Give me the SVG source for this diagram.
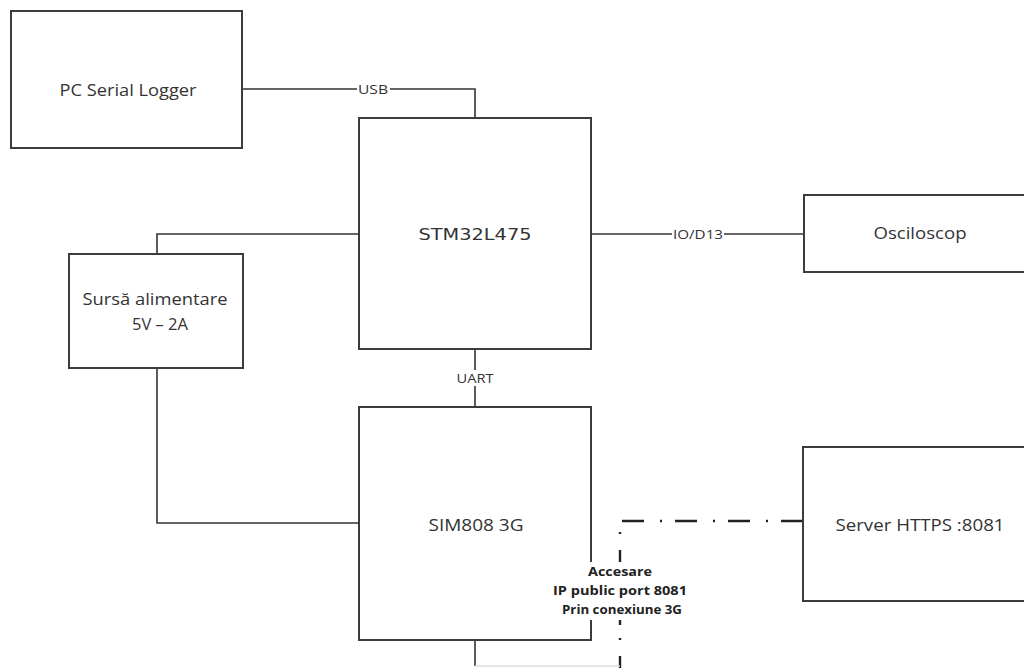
<svg xmlns="http://www.w3.org/2000/svg" width="1024" height="668" viewBox="0 0 1024 668">
<style>
.box{fill:#fff;stroke:#3c3c3c;stroke-width:2}
.ln{fill:none;stroke:#333;stroke-width:1.6}
.dd{fill:none;stroke:#222;stroke-width:2.4;stroke-dasharray:22 13 2 16}
.t{font-family:"Open Sans",Lato,sans-serif;fill:#333;text-anchor:middle;dominant-baseline:central;font-size:16px}
.lbl{font-family:"Open Sans",Lato,sans-serif;fill:#333;font-size:12.5px;text-anchor:middle;dominant-baseline:central}
.acc{font-family:"Open Sans",Lato,sans-serif;fill:#222;font-size:12.5px;font-weight:bold;text-anchor:middle}
</style>
<rect width="1024" height="668" fill="#fff"/>
<g id="connectors">
<path class="ln" d="M242 89 H475 V118"/>
<path class="ln" d="M359 234 H157 V254"/>
<path class="ln" d="M157 368 V523 H359"/>
<path class="ln" d="M475 349 V407"/>
<path class="ln" d="M591 234 H804"/>
<path class="ln" d="M475 640 V666"/>
<path class="dd" d="M803 521 H620 V668"/>
<path d="M475 666 H620" fill="none" stroke="#ddd" stroke-width="1.5"/>
</g>
<g id="pc">
<rect class="box" x="11" y="11" width="231" height="137"/>
<text class="t" x="128" y="90" textLength="137" lengthAdjust="spacingAndGlyphs">PC Serial Logger</text>
</g>
<g id="stm">
<rect class="box" x="359" y="118" width="232" height="231"/>
<text class="t" x="475" y="234" font-size="18" style="font-family:'DejaVu Sans',sans-serif" textLength="113" lengthAdjust="spacingAndGlyphs">STM32L475</text>
</g>
<g id="sursa">
<rect class="box" x="69" y="254" width="174" height="114"/>
<text class="t" x="155" y="299" textLength="145" lengthAdjust="spacingAndGlyphs">Sursă alimentare</text>
<text class="t" x="160" y="324" textLength="56" lengthAdjust="spacingAndGlyphs">5V – 2A</text>
</g>
<g id="osc">
<rect class="box" x="804" y="195" width="240" height="77"/>
<text class="t" x="920" y="233" textLength="93" lengthAdjust="spacingAndGlyphs">Osciloscop</text>
</g>
<g id="sim">
<rect class="box" x="359" y="407" width="232" height="233"/>
<text class="t" x="476" y="525" textLength="95" lengthAdjust="spacingAndGlyphs">SIM808 3G</text>
</g>
<g id="server">
<rect class="box" x="803" y="447" width="240" height="154"/>
<text class="t" x="920" y="525" textLength="169" lengthAdjust="spacingAndGlyphs">Server HTTPS :8081</text>
</g>
<g id="labels">
<rect x="357" y="81" width="33" height="16" fill="#fff"/>
<text class="lbl" x="373" y="89" textLength="30" lengthAdjust="spacingAndGlyphs">USB</text>
<rect x="672" y="226" width="52" height="16" fill="#fff"/>
<text class="lbl" x="698" y="234" textLength="50" lengthAdjust="spacingAndGlyphs">IO/D13</text>
<rect x="455" y="370" width="40" height="16" fill="#fff"/>
<text class="lbl" x="475" y="378" textLength="37" lengthAdjust="spacingAndGlyphs">UART</text>
<rect x="552" y="562" width="137" height="58" fill="#fff"/>
<text class="acc" x="620" y="576" textLength="64" lengthAdjust="spacingAndGlyphs">Accesare</text>
<text class="acc" x="620" y="595" textLength="134" lengthAdjust="spacingAndGlyphs">IP public port 8081</text>
<text class="acc" x="622" y="614" textLength="120" lengthAdjust="spacingAndGlyphs">Prin conexiune 3G</text>
</g>
</svg>
